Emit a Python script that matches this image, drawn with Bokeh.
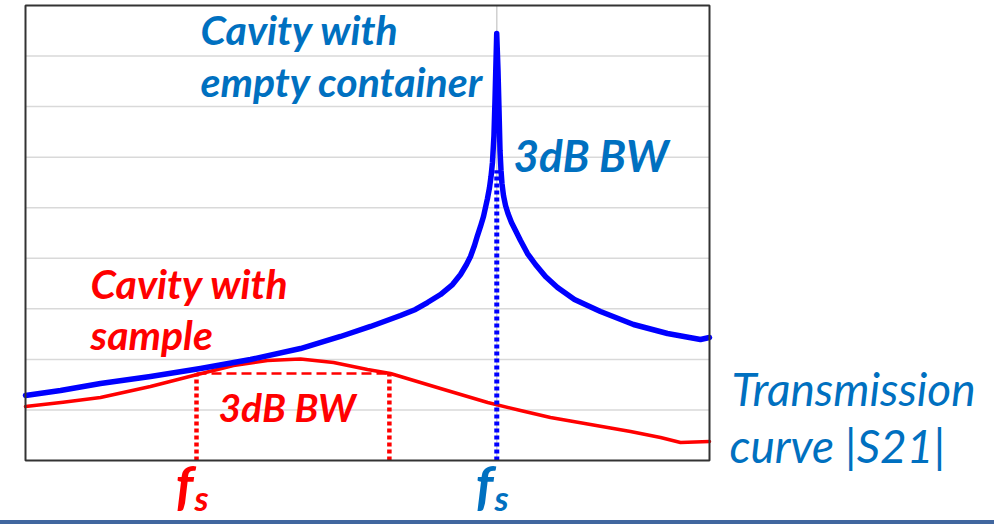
from bokeh.plotting import figure
from bokeh.models import Range1d, Label, Div
from bokeh.layouts import column
from bokeh.embed import file_html
from bokeh.resources import INLINE

# ---------------- data (frequency in arbitrary units, |S21| in arbitrary units) ----------------
freq_empty = [0.0, 5.12, 10.96, 18.27, 25.58, 32.89, 40.20, 46.05, 50.44,
              54.82, 57.02, 58.77, 60.67, 62.43, 63.60, 64.47, 65.06, 65.64, 66.08,
              66.52, 66.96, 67.25, 67.54, 67.84, 68.06, 68.27, 68.49, 68.64, 68.79,
              68.89,
              69.08, 69.23, 69.37, 69.52, 69.66, 69.88, 70.18, 70.54, 71.05, 71.64,
              72.37, 73.39, 74.56, 76.02, 77.78, 80.26, 84.06, 88.89, 93.86, 98.68,
              100.0]
s21_empty = [1.286, 1.385, 1.523, 1.662, 1.820, 1.998, 2.215, 2.453, 2.651,
             2.868, 2.987, 3.125, 3.283, 3.481, 3.679, 3.877, 4.035, 4.253, 4.450,
             4.629, 4.826, 5.004, 5.182, 5.400, 5.618, 5.894, 6.428, 7.121, 7.912,
             8.446,
             7.714, 6.923, 6.132, 5.736, 5.479, 5.242, 5.044, 4.886, 4.708, 4.549,
             4.352, 4.094, 3.877, 3.639, 3.422, 3.185, 2.947, 2.690, 2.512, 2.393,
             2.433]

freq_sample = [0.0, 5.5, 10.96, 18.27, 24.56, 30.41, 35.38, 40.20, 45.03, 50.0, 53.36,
               54.82, 60.67, 67.57, 72.37, 76.75, 82.60, 88.45, 92.84, 95.76, 100.0]
s21_sample = [1.068, 1.150, 1.246, 1.464, 1.681, 1.879, 1.978, 2.008, 1.938, 1.800, 1.721,
              1.662, 1.424, 1.147, 0.989, 0.851, 0.712, 0.574, 0.455, 0.356, 0.376]

f_res_empty = 68.9          # resonance of cavity with empty container
bw_top_empty = 5.74         # where the 3dB marker of the empty cavity starts
f_low_sample = 25.0         # lower 3dB point of cavity with sample
f_high_sample = 53.2        # upper 3dB point of cavity with sample
level_3db_sample = 1.72     # 3dB level of cavity with sample
grid_levels = [1, 2, 3, 4, 5, 6, 7, 8]

# ---------------- layout ----------------
X0, X1, Y0, Y1 = 0, 100, 0, 9
L, R, T, B = 25, 709, 5, 460
W, H = 994, 520

BLUE_LINE = "#0000FF"
RED_LINE = "#FF0000"
BLUE_TEXT = "#0070C0"
RED_TEXT = "#FF0000"
FONT = "Lato"


def dx(px):
    return X0 + (px - L) / (R - L) * (X1 - X0)


def dy(py):
    return Y0 + (B - py) / (B - T) * (Y1 - Y0)


p = figure(width=W, height=H, output_backend="svg", toolbar_location=None,
           x_range=Range1d(dx(0), dx(W)), y_range=Range1d(dy(H), dy(0)),
           min_border=0)
p.xaxis.visible = False
p.yaxis.visible = False
p.xgrid.visible = False
p.ygrid.visible = False
p.outline_line_color = None
p.background_fill_color = "white"
p.border_fill_color = "white"

# grid lines of the chart box
p.segment(x0=[X0] * len(grid_levels), x1=[X1] * len(grid_levels),
          y0=grid_levels, y1=grid_levels, line_color="#d9d9d9", line_width=1.5)
p.segment(x0=[f_res_empty], x1=[f_res_empty], y0=[Y0], y1=[Y1],
          line_color="#d0d0d0", line_width=1.5)

p.line(freq_sample, s21_sample, line_color=RED_LINE, line_width=3.5,
       line_join="round", line_cap="round")
p.line(freq_empty, s21_empty, line_color=BLUE_LINE, line_width=5.5,
       line_join="round", line_cap="round")

# 3dB markers
p.line([f_res_empty, f_res_empty], [Y0, bw_top_empty], line_color=BLUE_LINE,
       line_width=5, line_dash="4 3")
p.line([f_low_sample, f_low_sample], [Y0, level_3db_sample], line_color=RED_LINE,
       line_width=4.5, line_dash="4 3")
p.line([f_high_sample, f_high_sample], [Y0, level_3db_sample], line_color=RED_LINE,
       line_width=4.5, line_dash="4 3")
p.line([f_low_sample, f_high_sample], [level_3db_sample, level_3db_sample],
       line_color=RED_LINE, line_width=2.5, line_dash="10 5")

# chart box
p.quad(left=[X0], right=[X1], bottom=[Y0], top=[Y1], fill_color=None,
       line_color="#333333", line_width=2)


def lab(text, px, py, color, size, style="bold italic"):
    # py is the wanted baseline in pixels; compensate renderer's baseline offset
    p.add_layout(Label(x=dx(px), y=dy(py - 0.4 * size), text=text, text_font=FONT,
                       text_font_style=style, text_font_size=f"{size}px",
                       text_color=color, text_align="left",
                       text_baseline="alphabetic"))


lab("Cavity with", 200, 45, BLUE_TEXT, 41)
lab("empty container", 200, 97, BLUE_TEXT, 41)
lab("3dB BW", 513, 172, BLUE_TEXT, 44)
lab("Cavity with", 90, 299, RED_TEXT, 41)
lab("sample", 90, 350, RED_TEXT, 41)
lab("3dB BW", 218, 422, RED_TEXT, 39)
lab("Transmission", 731, 406, BLUE_TEXT, 46, "italic")
lab("curve |S21|", 729, 463, BLUE_TEXT, 46, "italic")

lab("f", 175, 506, RED_TEXT, 54)
lab("s", 194, 510, RED_TEXT, 35)
lab("f", 475, 506, BLUE_TEXT, 54)
lab("s", 494, 510, BLUE_TEXT, 35)

bar = Div(width=W, height=4, margin=0,
          styles={"background-color": "#41679F"})

layout = column(p, bar, spacing=0)
open("out.html", "w").write(file_html(layout, INLINE))
